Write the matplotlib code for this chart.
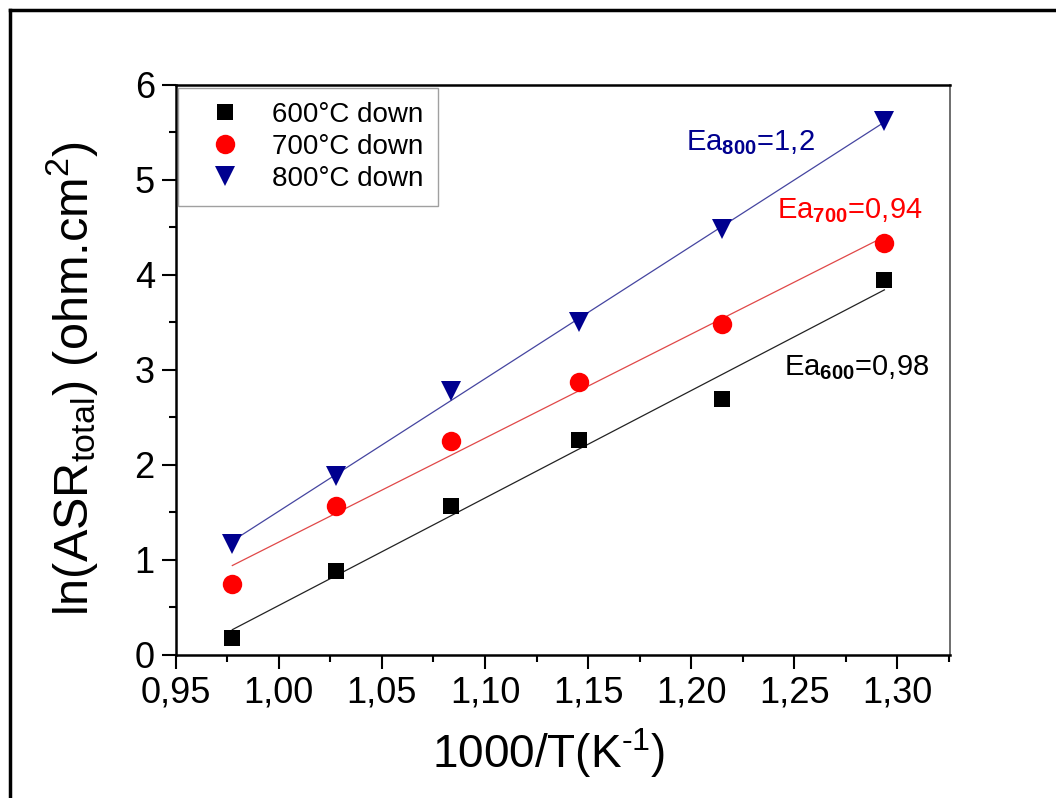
import numpy as np
import matplotlib
matplotlib.use('Agg')
import matplotlib.pyplot as plt
from matplotlib.lines import Line2D
from matplotlib.ticker import MultipleLocator, FuncFormatter

plt.rcParams['font.family'] = ['Liberation Sans', 'DejaVu Sans']
plt.rcParams['mathtext.fontset'] = 'custom'
plt.rcParams['mathtext.rm'] = 'Liberation Sans'
plt.rcParams['mathtext.it'] = 'Liberation Sans:italic'
plt.rcParams['mathtext.bf'] = 'Liberation Sans:bold'

# 1000/T (K^-1) for 750 ... 500 °C
inv_T = [0.9775, 1.0277, 1.0834, 1.1455, 1.2151, 1.2937]

# ln(ASR_total)
ln_asr_600 = [0.18, 0.88, 1.57, 2.26, 2.69, 3.95]
ln_asr_700 = [0.75, 1.57, 2.25, 2.87, 3.48, 4.34]
ln_asr_800 = [1.17, 1.88, 2.78, 3.51, 4.48, 5.62]

labels = ['600°C down', '700°C down', '800°C down']
ea_text = [r'Ea$_{\mathbf{600}}$=0,98', r'Ea$_{\mathbf{700}}$=0,94', r'Ea$_{\mathbf{800}}$=1,2']

navy = '#00008F'

fig = plt.figure(figsize=(10.56, 7.98), dpi=100)
ax = fig.add_axes([0.1663, 0.1792, 0.7333, 0.7143])

series = [
    (ln_asr_600, 's', 'black', 11, '#222222'),
    (ln_asr_700, 'o', '#FF0000', 14, '#E04848'),
    (ln_asr_800, 'v', navy, 15, '#4545A0'),
]

x = np.array(inv_T)
for (y, mk, col, ms, lcol), lab in zip(series, labels):
    y = np.array(y)
    # linear fit (Arrhenius)
    k, b = np.polyfit(x, y, 1)
    ax.plot([x[0], x[-1]], [k * x[0] + b, k * x[-1] + b], color=lcol, lw=0.9, zorder=2)
    ax.plot(x, y, linestyle='none', marker=mk, color=col, markersize=ms,
            markeredgewidth=0, label=lab, zorder=3)

# activation energy labels
ax.text(1.2449, 2.95, ea_text[0], color='black', fontsize=21, va='baseline')
ax.text(1.2415, 4.60, ea_text[1], color='#FF0000', fontsize=21, va='baseline')
ax.text(1.1973, 5.31, ea_text[2], color=navy, fontsize=21, va='baseline')

ax.set_xlim(0.95, 1.3255)
ax.set_ylim(0, 6)
ax.xaxis.set_major_locator(MultipleLocator(0.05))
ax.xaxis.set_minor_locator(MultipleLocator(0.025))
ax.yaxis.set_major_locator(MultipleLocator(1))
ax.yaxis.set_minor_locator(MultipleLocator(0.5))
ax.xaxis.set_major_formatter(FuncFormatter(lambda v, p: f'{v:.2f}'.replace('.', ',')))
ax.yaxis.set_major_formatter(FuncFormatter(lambda v, p: f'{v:.0f}'))

ax.tick_params(which='major', direction='out', length=10, width=1.5, labelsize=26, pad=5)
ax.tick_params(which='minor', direction='out', length=5, width=1.5)
ax.tick_params(top=False, right=False)

for side in ['left', 'bottom', 'top']:
    ax.spines[side].set_linewidth(1.8)
ax.spines['right'].set_linewidth(1.2)
ax.spines['right'].set_color('#555555')

ax.set_xlabel(r'1000/T(K$^{\text{-1}}$)', fontsize=33)
ax.set_ylabel(r'ln(ASR$_{\mathregular{total}}$) (ohm.cm$^{\mathregular{2}}$)', fontsize=35)
ax.xaxis.set_label_coords(0.482, -0.125)
ax.yaxis.set_label_coords(-0.097, 0.485)

leg = ax.legend(loc='upper left', bbox_to_anchor=(0.003, 0.995), fontsize=20,
                frameon=True, fancybox=False, edgecolor='#888888',
                handletextpad=0.5, borderpad=0.5, labelspacing=0.22,
                handlelength=2.4, borderaxespad=0)
leg.get_frame().set_linewidth(1.0)

# outer frame of the picture
fig.add_artist(Line2D([0.0095, 1.0], [0.9875, 0.9875], transform=fig.transFigure,
                      color='black', lw=2.5))
fig.add_artist(Line2D([0.0095, 0.0095], [0.0, 0.9875], transform=fig.transFigure,
                      color='black', lw=2.5))

fig.savefig('out.png', dpi=100)
